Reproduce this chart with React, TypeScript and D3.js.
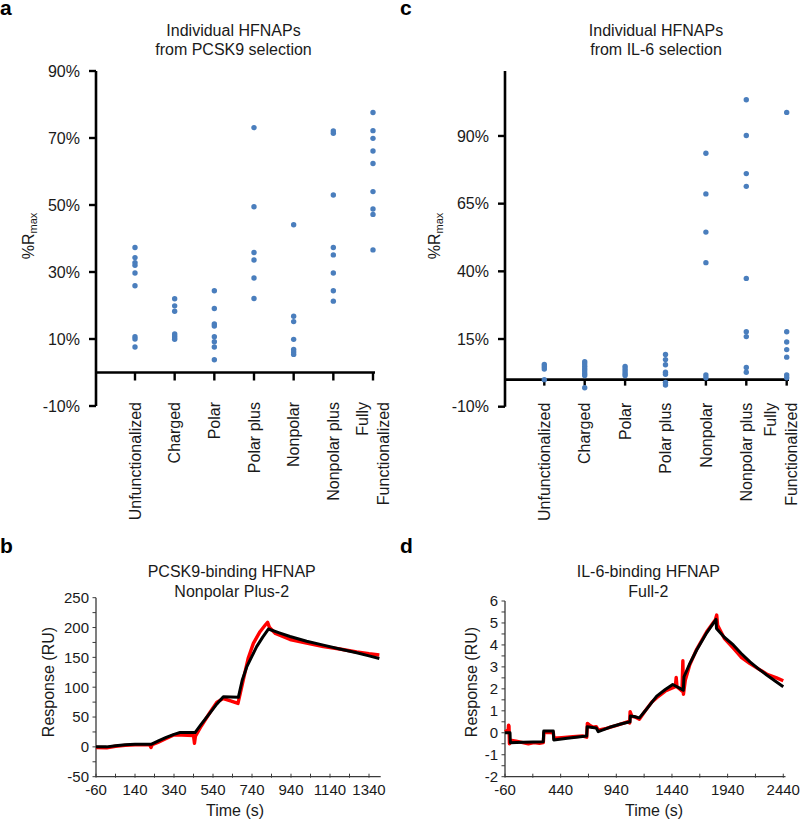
import React from "react";
import * as d3 from "d3";

const FONT = "'Liberation Sans', Arial, Helvetica, sans-serif";

// ---------- Scatter data (%Rmax) ----------
const categories = [
  "Unfunctionalized",
  "Charged",
  "Polar",
  "Polar plus",
  "Nonpolar",
  "Nonpolar plus",
  "Fully Functionalized",
];

const pcsk9Rmax: number[][] = [
  [37.3, 34.3, 32.8, 32.0, 29.7, 25.9, 10.7, 10.0, 7.6],
  [22.0, 19.9, 18.3, 11.5, 10.9, 10.4, 9.9],
  [24.4, 19.1, 14.5, 13.9, 10.7, 9.2, 7.6, 3.8],
  [73.1, 49.5, 35.8, 33.6, 28.2, 22.1],
  [44.1, 16.8, 15.2, 9.9, 6.9, 6.1, 5.4],
  [72.1, 71.4, 53.0, 37.3, 35.1, 29.7, 24.4, 21.3],
  [77.6, 72.2, 69.9, 66.1, 62.4, 54.0, 48.8, 47.2, 36.6],
];

const il6Rmax: number[][] = [
  [5.6, 4.8, 3.9, 0.0],
  [6.6, 5.8, 4.9, 4.0, 3.2, 2.3, 1.5, -3.0],
  [4.9, 4.0, 3.2, 2.3, 1.5],
  [9.3, 7.4, 5.5, 2.7, 2.0, -1.0, -2.0],
  [83.6, 68.6, 54.5, 43.2, 1.7, 0.7],
  [103.4, 90.2, 76.1, 71.4, 37.4, 17.7, 15.9, 4.5, 2.7],
  [98.7, 17.7, 13.9, 11.1, 8.3, 1.7, 0.7],
];

const pcsk9Ticks = [-10, 10, 30, 50, 70, 90];
const il6Ticks = [-10, 15, 40, 65, 90];

// ---------- Kinetics data: [time (s), response (RU)] ----------
const pcsk9Fit: [number, number][] = [
  [-60, 0], [-5, 0], [40, 2], [90, 3.5], [140, 4.5], [225, 4.5], [260, 10], [300, 16],
  [340, 21], [371, 24], [448, 24], [480, 38], [525, 57], [560, 72], [593, 84], [670, 83],
  [690, 112], [713, 134], [740, 152], [764, 168], [795, 184], [824, 197.5], [880, 191],
  [935, 185], [1020, 177], [1106, 170.5], [1190, 164], [1277, 157.7], [1340, 152.5], [1393, 148],
];

const pcsk9Data: [number, number][] = [
  [-60, -1], [-5, -1.5], [40, 1], [90, 2.5], [140, 3.5], [215, 3.5], [222, -1], [228, 3.5],
  [260, 8], [300, 14], [336, 19.6], [380, 20], [440, 19], [445, 6], [450, 18], [480, 35],
  [525, 58], [560, 75], [593, 81], [630, 77], [668, 72.8], [680, 90], [695, 112], [720, 148],
  [747, 173.5], [781, 193], [810, 205], [820, 208.7], [830, 200], [860, 190], [935, 180],
  [1020, 174], [1106, 168], [1190, 164], [1277, 159], [1340, 156], [1393, 154],
];

const il6Fit: [number, number][] = [
  [-60, 0], [-15, 0], [-12, -0.45], [100, -0.43], [284, -0.41], [288, 0.08], [374, 0.08],
  [378, -0.33], [500, -0.25], [674, -0.15], [678, 0.27], [760, 0.22], [778, 0.05], [880, 0.25],
  [980, 0.4], [1063, 0.5], [1066, 0.76], [1100, 0.74], [1147, 0.68], [1200, 1.0], [1250, 1.33],
  [1303, 1.67], [1380, 1.97], [1447, 2.2], [1542, 1.94], [1548, 2.55], [1600, 3.15], [1662, 3.77],
  [1752, 4.55], [1836, 5.16], [1840, 4.75], [1910, 4.35], [1991, 4.0], [2060, 3.62], [2141, 3.23],
  [2220, 2.9], [2291, 2.63], [2370, 2.35], [2440, 2.1],
];

const il6Data: [number, number][] = [
  [-60, 0.05], [-40, 0.1], [-32, 0.05], [-28, 0.35], [-24, 0.3], [-20, -0.5], [0, -0.35],
  [40, -0.38], [100, -0.45], [150, -0.5], [200, -0.45], [250, -0.48], [284, -0.45], [290, 0.0],
  [320, 0.02], [374, 0.0], [380, -0.25], [450, -0.22], [550, -0.18], [640, -0.15], [674, -0.2],
  [680, 0.43], [700, 0.35], [730, 0.25], [760, 0.28], [778, 0.12], [850, 0.2], [950, 0.35],
  [1040, 0.5], [1060, 0.45], [1064, 0.96], [1080, 0.75], [1110, 0.72], [1147, 0.62], [1200, 1.0],
  [1260, 1.4], [1303, 1.6], [1380, 1.9], [1470, 2.1], [1478, 2.52], [1485, 2.1], [1530, 1.9],
  [1538, 3.28], [1543, 1.75], [1560, 2.4], [1600, 3.1], [1662, 3.8], [1752, 4.6], [1830, 5.15],
  [1842, 5.36], [1850, 4.9], [1910, 4.3], [1991, 3.85], [2060, 3.45], [2141, 3.15], [2220, 2.9],
  [2300, 2.65], [2380, 2.5], [2440, 2.37],
];

const pcsk9TimeTicks = [-60, 140, 340, 540, 740, 940, 1140, 1340];
const pcsk9RespTicks = [-50, 0, 50, 100, 150, 200, 250];
const il6TimeTicks = [-60, 440, 940, 1440, 1940, 2440];
const il6RespTicks = [-2, -1, 0, 1, 2, 3, 4, 5, 6];

const TEXT = "#1a1a1a";

type ScatterProps = {
  axisX: number;
  yRange: [number, number];
  yDomain: [number, number];
  ticks: number[];
  xRange: [number, number];
  axisEnd: number;
  values: number[][];
  titleX: number;
  title: string[];
  ylabelX: number;
  catTick: number;
  lastLabelShift: number;
};

function ScatterPanel(p: ScatterProps) {
  const y = d3.scaleLinear().domain(p.yDomain).range(p.yRange);
  const x = d3.scalePoint<string>().domain(categories).range(p.xRange);
  const y0 = y(0);
  const yBottom = p.yRange[0];
  return (
    <g fontFamily={FONT} fill={TEXT}>
      <text x={p.titleX} y={35.5} fontSize={16} textAnchor="middle">{p.title[0]}</text>
      <text x={p.titleX} y={55} fontSize={16} textAnchor="middle">{p.title[1]}</text>
      {/* y axis */}
      <line x1={p.axisX} x2={p.axisX} y1={p.yRange[1]} y2={yBottom} stroke="#000" strokeWidth={2.6} />
      {p.ticks.map((t) => (
        <g key={t}>
          <line x1={p.axisX - 7} x2={p.axisX} y1={y(t)} y2={y(t)} stroke="#000" strokeWidth={2.4} />
          <text x={p.axisX - 16} y={y(t)} dy="0.36em" fontSize={16} textAnchor="end">{t}%</text>
        </g>
      ))}
      {/* x axis at 0 */}
      <line x1={p.axisX} x2={p.axisEnd} y1={y0} y2={y0} stroke="#000" strokeWidth={2.6} />
      {categories.map((c) => (
        <line key={c} x1={x(c)!} x2={x(c)!} y1={y0} y2={y0 + p.catTick} stroke="#000" strokeWidth={2.4} />
      ))}
      {/* category labels */}
      {categories.map((c) => {
        const parts = c === "Fully Functionalized" ? ["Fully", "Functionalized"] : [c];
        const cx = x(c)! + (parts.length > 1 ? p.lastLabelShift : 0);
        return (
          <text key={c} transform={`translate(${cx},${yBottom - 4}) rotate(-90)`} fontSize={16} textAnchor="end">
            {parts.length === 1 ? (
              <tspan x={0} dy={5.7}>{parts[0]}</tspan>
            ) : (
              <>
                <tspan x={0} dy={-4.6}>{parts[0]}</tspan>
                <tspan x={0} dy={20.6}>{parts[1]}</tspan>
              </>
            )}
          </text>
        );
      })}
      {/* y label */}
      <text transform={`translate(${p.ylabelX},236) rotate(-90)`} textAnchor="middle" fontSize={16}>
        <tspan>%R</tspan>
        <tspan fontSize={11} dy={3}>max</tspan>
      </text>
      {/* dots */}
      {p.values.map((vals, i) =>
        vals.map((v, j) => (
          <circle key={`${i}-${j}`} cx={x(categories[i])!} cy={y(v)} r={2.7} fill="#4a7ebd" />
        ))
      )}
    </g>
  );
}

type KinProps = {
  x0: number;
  x1: number;
  xDomain: [number, number];
  yTop: number;
  yBottom: number;
  yDomain: [number, number];
  xTicks: number[];
  xMinorStep: number;
  yTicks: number[];
  yMinorStep: number;
  fit: [number, number][];
  data: [number, number][];
  title: string[];
  titleX: number;
  ylabelX: number;
  xlabelX: number;
};

function KineticPanel(p: KinProps) {
  const x = d3.scaleLinear().domain(p.xDomain).range([p.x0, p.x1]);
  const y = d3.scaleLinear().domain(p.yDomain).range([p.yBottom, p.yTop]);
  const line = d3
    .line<[number, number]>()
    .x((d) => x(d[0]))
    .y((d) => y(d[1]));
  const xMinor = d3.range(p.xDomain[0], p.xDomain[1] + 1, p.xMinorStep);
  const yMinor = d3.range(p.yDomain[0], p.yDomain[1] + 0.0001, p.yMinorStep);
  const axisColor = "#3a3a3a";
  return (
    <g fontFamily={FONT} fill={TEXT}>
      <text x={p.titleX} y={577} fontSize={16} textAnchor="middle">{p.title[0]}</text>
      <text x={p.titleX} y={597} fontSize={16} textAnchor="middle">{p.title[1]}</text>
      <line x1={p.x0} x2={p.x0} y1={p.yTop} y2={p.yBottom} stroke={axisColor} strokeWidth={1.3} />
      <line x1={p.x0} x2={p.x1} y1={p.yBottom} y2={p.yBottom} stroke={axisColor} strokeWidth={1.3} />
      {yMinor.map((t, i) => (
        <line key={`ym${i}`} x1={p.x0 - 3.5} x2={p.x0} y1={y(t)} y2={y(t)} stroke={axisColor} strokeWidth={1} />
      ))}
      {xMinor.map((t, i) => (
        <line key={`xm${i}`} x1={x(t)} x2={x(t)} y1={p.yBottom - 3} y2={p.yBottom + 1} stroke={axisColor} strokeWidth={1} />
      ))}
      {p.yTicks.map((t) => (
        <text key={`yl${t}`} x={p.x0 - 7} y={y(t)} dy="0.36em" fontSize={15} textAnchor="end">{t}</text>
      ))}
      {p.xTicks.map((t) => (
        <text key={`xl${t}`} x={x(t)} y={p.yBottom + 18.3} fontSize={15} textAnchor="middle">{t}</text>
      ))}
      <text x={p.xlabelX} y={816} fontSize={16} textAnchor="middle">Time (s)</text>
      <text transform={`translate(${p.ylabelX},682) rotate(-90)`} fontSize={16} textAnchor="middle">Response (RU)</text>
      <path d={line(p.data)!} fill="none" stroke="#ff0000" strokeWidth={3.4} strokeLinejoin="round" />
      <path d={line(p.fit)!} fill="none" stroke="#000" strokeWidth={3} strokeLinejoin="round" />
    </g>
  );
}

export default function App() {
  return (
    <svg
      width={800}
      height={821}
      style={{ position: "absolute", left: 0, top: 0, background: "#fff" }}
      xmlns="http://www.w3.org/2000/svg"
    >
      <rect width={800} height={821} fill="#fff" />
      <g fontFamily={FONT} fontWeight="bold" fontSize={21} fill="#000">
        <text x={0} y={15}>a</text>
        <text x={400} y={15}>c</text>
        <text x={0} y={553}>b</text>
        <text x={400} y={553}>d</text>
      </g>
      <ScatterPanel
        axisX={96}
        yRange={[406, 71]}
        yDomain={[-10, 90]}
        ticks={pcsk9Ticks}
        xRange={[135, 373]}
        axisEnd={375}
        values={pcsk9Rmax}
        titleX={233.5}
        title={["Individual HFNAPs", "from PCSK9 selection"]}
        ylabelX={34}
        catTick={8}
        lastLabelShift={0}
      />
      <ScatterPanel
        axisX={505}
        yRange={[406.7, 71]}
        yDomain={[-10, 114]}
        ticks={il6Ticks}
        xRange={[544.3, 786.7]}
        axisEnd={789}
        values={il6Rmax}
        titleX={656}
        title={["Individual HFNAPs", "from IL-6 selection"]}
        ylabelX={440}
        catTick={6}
        lastLabelShift={-6}
      />
      <KineticPanel
        x0={96}
        x1={380.7}
        xDomain={[-60, 1400]}
        yTop={597.7}
        yBottom={776.7}
        yDomain={[-50, 250]}
        xTicks={pcsk9TimeTicks}
        xMinorStep={100}
        yTicks={pcsk9RespTicks}
        yMinorStep={25}
        fit={pcsk9Fit}
        data={pcsk9Data}
        title={["PCSK9-binding HFNAP", "Nonpolar Plus-2"]}
        titleX={231.7}
        ylabelX={53.5}
        xlabelX={235}
      />
      <KineticPanel
        x0={505}
        x1={785.5}
        xDomain={[-60, 2460]}
        yTop={601}
        yBottom={776.7}
        yDomain={[-2, 6]}
        xTicks={il6TimeTicks}
        xMinorStep={250}
        yTicks={il6RespTicks}
        yMinorStep={0.5}
        fit={il6Fit}
        data={il6Data}
        title={["IL-6-binding HFNAP", "Full-2"]}
        titleX={648.3}
        ylabelX={476.5}
        xlabelX={654}
      />
    </svg>
  );
}
